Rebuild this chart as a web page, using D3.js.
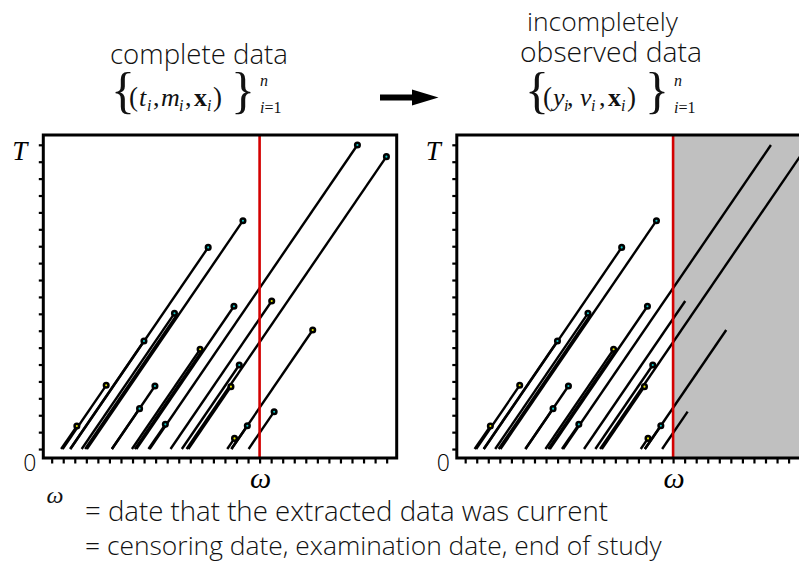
<!DOCTYPE html>
<html>
<head>
<meta charset="utf-8">
<script src="https://cdn.jsdelivr.net/npm/d3@7"></script>
<style>
  body { margin: 0; background: #fff; }
  svg { display: block; }
</style>
</head>
<body>
<svg id="fig" width="799" height="574"></svg>
<script>
// Study end / censoring date on the calendar axis
const omega = 19;

// Each subject: calendar start date, time to event, and event type
const startDate = [1.82, 1.95, 2.60, 2.62, 3.60, 3.90, 4.05, 6.22, 6.21, 7.95, 8.20, 8.33,
                   9.38, 9.48, 11.29, 12.27, 12.68, 12.83, 16.20, 16.56, 16.56, 18.05];
const duration  = [1.36, 3.77, 6.39, 11.93, 8.03, 7.90, 13.51, 2.39, 3.73, 5.90, 5.80, 8.45,
                   1.46, 17.99, 8.76, 4.97, 17.30, 3.69, 0.63, 1.38, 7.04, 2.21];
const eventType = ['Y', 'Y', 'C', 'C', 'C', '', 'C', 'C', 'C', 'Y', '', 'C',
                   'C', 'C', 'Y', 'C', 'C', 'Y', 'Y', 'C', 'Y', 'C'];

const xTickValues = [1, 2, 3, 4, 5, 6, 7, 8, 9, 10, 11, 12, 13, 14, 15,
                     16, 17, 18, 19, 20, 21, 22, 23, 24, 25, 26, 27, 28, 29, 30];
const yTickValues = [0, 1, 2, 3, 4, 5, 6, 7, 8, 9, 10, 11, 12, 13, 14, 15, 16, 17, 18];

const eventColor = { Y: '#e8e800', C: '#14c8c8' };

const subjects = startDate.map((s, i) => ({ s, t: duration[i], type: eventType[i] }));

const svg = d3.select('#fig');
const SERIF = "'Liberation Serif', 'Times New Roman', serif";
const SANS = "'Open Sans', 'Lato', sans-serif";

const xDomain = [0.275, 30.87];
const yDomain = [-0.53, 18.58];
const y = d3.scaleLinear().domain(yDomain).range([458, 135]);

function drawPanel(left, censored) {
  const x = d3.scaleLinear().domain(xDomain).range([left, left + 353.4]);
  const g = svg.append('g');

  // region after the censoring date is unobserved
  if (censored) {
    g.append('rect')
      .attr('x', x(omega)).attr('y', y(yDomain[1]))
      .attr('width', x(xDomain[1]) - x(omega))
      .attr('height', y(yDomain[0]) - y(yDomain[1]))
      .attr('fill', '#c0c0c0');
  }

  // tick marks (no numbers)
  const xAxis = g.append('g')
    .attr('transform', `translate(0,${y(yDomain[0])})`)
    .call(d3.axisBottom(x).tickValues(xTickValues).tickSize(5.5).tickSizeOuter(0).tickFormat(''));
  xAxis.select('.domain').remove();
  xAxis.selectAll('line').attr('stroke', '#000').attr('stroke-width', 2.2);

  const yAxis = g.append('g')
    .attr('transform', `translate(${x(xDomain[0])},0)`)
    .call(d3.axisLeft(y).tickValues(yTickValues).tickSize(4.5).tickSizeOuter(0).tickFormat(''));
  yAxis.select('.domain').remove();
  yAxis.selectAll('line').attr('stroke', '#000').attr('stroke-width', 2.2);

  // follow-up lines: time since entry grows with calendar time
  g.append('g').selectAll('line')
    .data(subjects)
    .join('line')
    .attr('x1', d => x(d.s)).attr('y1', y(0))
    .attr('x2', d => x(d.s + d.t)).attr('y2', d => y(d.t))
    .attr('stroke', '#000').attr('stroke-width', 2.4);

  // censoring date
  g.append('line')
    .attr('x1', x(omega)).attr('x2', x(omega))
    .attr('y1', y(yDomain[1])).attr('y2', y(yDomain[0]))
    .attr('stroke', '#d40000').attr('stroke-width', 2.6);

  // frame
  g.append('rect')
    .attr('x', x(xDomain[0])).attr('y', y(yDomain[1]))
    .attr('width', x(xDomain[1]) - x(xDomain[0]))
    .attr('height', y(yDomain[0]) - y(yDomain[1]))
    .attr('fill', 'none').attr('stroke', '#000').attr('stroke-width', 3);

  // observed events
  const shown = subjects.filter(d => d.type && (!censored || d.s + d.t <= omega));
  g.append('g').selectAll('circle')
    .data(shown)
    .join('circle')
    .attr('cx', d => x(d.s + d.t)).attr('cy', d => y(d.t))
    .attr('r', 2.3)
    .attr('fill', d => eventColor[d.type])
    .attr('stroke', '#000').attr('stroke-width', 2.5);

  // axis symbols
  g.append('text').text('T')
    .attr('x', x(xDomain[0]) - 31).attr('y', 160)
    .attr('font-family', SERIF).attr('font-style', 'italic').attr('font-size', 27);
  g.append('text').text('0')
    .attr('x', x(xDomain[0]) - 7).attr('y', 471).attr('text-anchor', 'end')
    .attr('font-family', SANS).attr('font-weight', 300).attr('font-size', 23);
  g.append('text').text('ω')
    .attr('x', x(omega) + 1).attr('y', 488).attr('text-anchor', 'middle')
    .attr('font-family', SERIF).attr('font-style', 'italic').attr('font-size', 30);
}

drawPanel(43.3, false);
drawPanel(456.8, true);

// headings: each is one text element, lines fitted to a width
function sansText(lines, x, size) {
  const t = svg.append('text')
    .attr('font-family', SANS).attr('font-weight', 300).attr('fill', '#111');
  lines.forEach(([txt, dx, base, width]) => {
    const s = t.append('tspan').text(txt)
      .attr('x', x + dx).attr('y', base).attr('font-size', size);
    const w = s.node().getComputedTextLength();
    if (w > 0) s.attr('font-size', size * width / w);
  });
  return t;
}
sansText([['complete data', 0, 64, 178]], 110, 22);
sansText([['incompletely', 7, 31, 151], ['observed data', 0, 62, 182]], 520, 22);

// set notation under each heading
function setNotation(x0, a, b) {
  const B = 106;
  const t = svg.append('text').attr('font-family', SERIF).attr('fill', '#111');
  const part = (txt, dx, yy, size, style) => {
    const s = t.append('tspan').text(txt).attr('x', x0 + dx).attr('y', yy).attr('font-size', size);
    if (style === 'i') s.attr('font-style', 'italic');
    if (style === 'b') s.attr('font-weight', 'bold');
    return s;
  };
  part('{', -1, 107, 50);
  part('(', 17, B, 27);
  part(a, 27, B, 26, 'i');
  part('i', a === 'y' ? 38 : 35, B + 5, 16, 'i');
  part(',', 41, B, 26);
  part(b, b === 'm' ? 49 : 54, B, 26, 'i');
  part('i', b === 'm' ? 67 : 65, B + 5, 16, 'i');
  part(',', 73, B, 26);
  part('x', 82, B, 26, 'b');
  part('i', 95, B + 5, 16, 'i');
  part(')', 101, B, 27);
  part('}', 119, 107, 50);
  part('n', 148, 86, 16, 'i');
  part('i', 148, 113, 16, 'i');
  t.append('tspan').text('=1').attr('font-size', 16);
  return t;
}
setNotation(112, 't', 'm');
setNotation(526, 'y', 'v');

// arrow between the two panels
svg.append('path')
  .attr('d', d3.line()([[380, 94.5], [412, 94.5], [412, 89.5], [438.5, 97.5], [412, 105.5], [412, 100.5], [380, 100.5]]) + 'Z')
  .attr('fill', '#000');

// legend for the censoring date
svg.append('text').text('ω')
  .attr('x', 55).attr('y', 503).attr('text-anchor', 'middle')
  .attr('font-family', SERIF).attr('font-style', 'italic').attr('font-size', 24).attr('fill', '#111');
sansText([['= date that the extracted data was current', 0, 521, 523],
          ['= censoring  date, examination date, end of study', 0, 555, 577]], 85, 22);
</script>
</body>
</html>
